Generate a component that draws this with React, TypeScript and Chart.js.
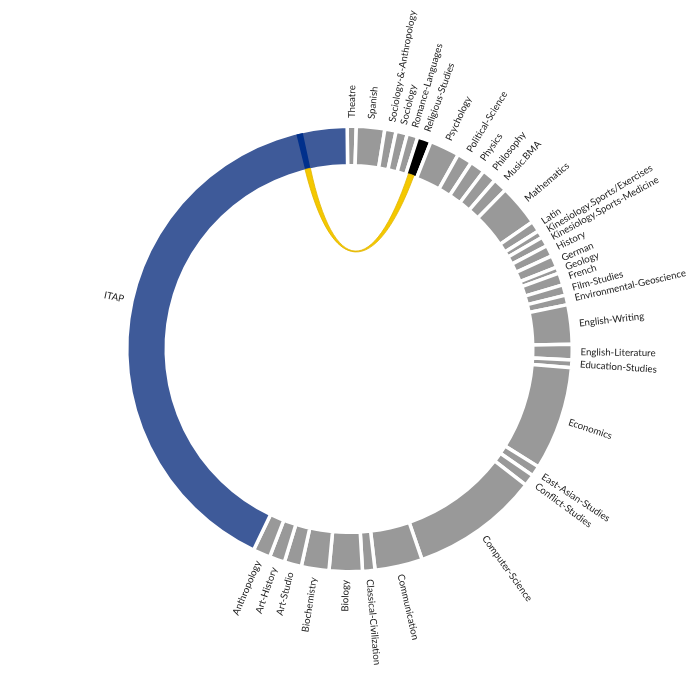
import React, { useEffect, useRef } from 'react';
import { Chart, registerables } from 'chart.js';

Chart.register(...registerables);

// Groups, clockwise from the top of the ring
const categories = [
  'Theatre', 'Spanish', 'Sociology-&-Anthropology', 'Sociology', 'Romance-Languages',
  'Religious-Studies', 'Psychology', 'Political-Science', 'Physics', 'Philosophy',
  'Music.BMA', 'Mathematics', 'Latin', 'Kinesiology.Sports/Exercises',
  'Kinesiology.Sports-Medicine', 'History', 'German', 'Geology', 'French',
  'Film-Studies', 'Environmental-Geoscience', 'English-Writing', 'English-Literature',
  'Education-Studies', 'Economics', 'East-Asian-Studies', 'Conflict-Studies',
  'Computer-Science', 'Communication', 'Classical-Civilization', 'Biology',
  'Biochemistry', 'Art-Studio', 'Art-History', 'Anthropology', 'ITAP',
];

// Group sizes (share of the ring)
const values = [
  2.35, 7.4, 2.95, 2.95, 2.8,
  3.6, 7.75, 3.95, 3.9, 3.7,
  3.65, 10.8, 2.8, 1.9,
  2.5, 2.9, 3.15, 1.65, 3.15,
  2.75, 2.5, 10.25, 4.05,
  2.05, 27.1, 2.7, 3.0,
  33.35, 12.4, 3.25, 8.65,
  7.2, 4.5, 4.0, 4.5, 153.9,
];

// The single highlighted chord
const chordSource = 'ITAP';
const chordSourceRange = [140.6, 142.3];
const chordTarget = 'Religious-Studies';
const chordTargetRange = [0.75, 2.55];

const GRAY = '#999999';
const ITAP_BLUE = '#3E5A99';
const STRIPE_BLUE = '#00308C';
const CHORD_YELLOW = '#F4C800';
const BORDER = 3.5;
const OUTER = 221 + BORDER / 2;
const INNER = 185 - BORDER / 2;
const CURVE_FACTOR = 0.6;

const colors = categories.map((c) =>
  c === 'ITAP' ? ITAP_BLUE : c === 'Religious-Studies' ? '#000000' : GRAY
);

const chordPlugin = {
  id: 'chordOverlay',
  afterDatasetsDraw(chart: any) {
    const ctx = chart.ctx;
    const meta = chart.getDatasetMeta(0);
    const arcs = meta.data;
    if (!arcs.length) return;
    const a0 = arcs[0];
    const cx = a0.x;
    const cy = a0.y;
    const rOut = a0.outerRadius - BORDER / 2;
    const rIn = a0.innerRadius + BORDER / 2;

    const angleAt = (name: string, offset: number) => {
      const i = categories.indexOf(name);
      const arc = arcs[i];
      const per = (arc.endAngle - arc.startAngle) / values[i];
      return arc.startAngle + offset * per;
    };

    const s0 = angleAt(chordSource, chordSourceRange[0]);
    const s1 = angleAt(chordSource, chordSourceRange[1]);
    const t0 = angleAt(chordTarget, chordTargetRange[0]);
    const t1 = angleAt(chordTarget, chordTargetRange[1]);

    ctx.save();
    // dark stripe on the source group
    ctx.beginPath();
    ctx.arc(cx, cy, rOut, s0, s1);
    ctx.arc(cx, cy, rIn, s1, s0, true);
    ctx.closePath();
    ctx.fillStyle = STRIPE_BLUE;
    ctx.fill();

    // ribbon (cubic links, control points pulled toward the centre)
    const r = rIn;
    const k = 1 - CURVE_FACTOR;
    const px = (a: number, f = 1) => cx + r * f * Math.cos(a);
    const py = (a: number, f = 1) => cy + r * f * Math.sin(a);
    ctx.beginPath();
    ctx.moveTo(px(s0), py(s0));
    ctx.arc(cx, cy, r, s0, s1);
    ctx.bezierCurveTo(px(s1, k), py(s1, k), px(t0, k), py(t0, k), px(t0), py(t0));
    ctx.arc(cx, cy, r, t0, t1);
    ctx.bezierCurveTo(px(t1, k), py(t1, k), px(s0, k), py(s0, k), px(s0), py(s0));
    ctx.closePath();
    ctx.fillStyle = CHORD_YELLOW;
    ctx.fill();
    ctx.lineWidth = 0.8;
    ctx.strokeStyle = '#E2B500';
    ctx.stroke();

    // labels
    ctx.font = '9.7px Lato';
    ctx.fillStyle = '#222222';
    ctx.textBaseline = 'middle';
    arcs.forEach((arc: any, i: number) => {
      const mid = (arc.startAngle + arc.endAngle) / 2;
      let fromTop = mid + Math.PI / 2;
      fromTop = ((fromTop % (2 * Math.PI)) + 2 * Math.PI) % (2 * Math.PI);
      ctx.save();
      ctx.translate(cx, cy);
      ctx.rotate(mid);
      ctx.translate(rOut + 10, 0);
      if (fromTop > Math.PI) {
        ctx.rotate(Math.PI);
        ctx.textAlign = 'right';
      } else {
        ctx.textAlign = 'left';
      }
      ctx.fillText(categories[i], 0, 0);
      ctx.restore();
    });
    ctx.restore();
  },
};

export default function App() {
  const ref = useRef<HTMLCanvasElement>(null);
  useEffect(() => {
    document.body.style.margin = '0';
    if (!ref.current) return;
    const chart = new Chart(ref.current, {
      type: 'doughnut',
      data: {
        labels: categories,
        datasets: [
          {
            data: values,
            backgroundColor: colors,
            borderColor: '#ffffff',
            borderWidth: BORDER,
            hoverOffset: 0,
          },
        ],
      },
      options: {
        responsive: false,
        animation: false,
        events: [],
        rotation: -0.6,
        radius: OUTER,
        cutout: `${(INNER / OUTER) * 100}%`,
        layout: { padding: { left: 0, right: 1, top: 0, bottom: 2 } },
        plugins: { legend: { display: false }, tooltip: { enabled: false } },
      } as any,
      plugins: [chordPlugin],
    });
    return () => chart.destroy();
  }, []);
  return <canvas ref={ref} width={700} height={700} style={{ display: 'block' }} />;
}
